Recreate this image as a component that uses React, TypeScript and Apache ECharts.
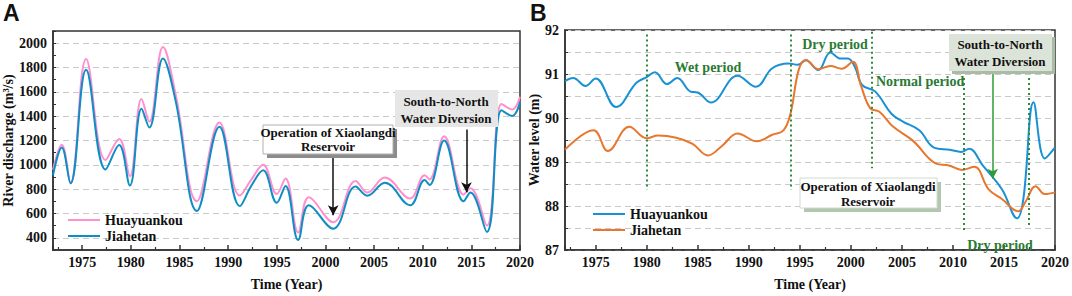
import React, { useEffect, useRef } from "react";
import * as echarts from "echarts";

// ---------- Panel A: river discharge (m3/s) ----------
const yearsA = [1972, 1972.9, 1973.8, 1975.4, 1977.4, 1978.8, 1979.9, 1981.1, 1981.9, 1983.3, 1984.6, 1986.8, 1989.1, 1991.2, 1992.4, 1993.6, 1995.0, 1995.9, 1997.2, 1998.3, 2000.8, 2003.1, 2004.3, 2006.1, 2008.7, 2010.2, 2010.7, 2012.2, 2014.2, 2014.9, 2016.6, 2018.1, 2019.2, 2020];
const huayuankouA = [960, 1165, 848, 1869, 1040, 1213, 907, 1541, 1355, 1968, 1581, 701, 1347, 747, 880, 1000, 760, 888, 443, 733, 528, 867, 773, 896, 723, 915, 880, 1235, 755, 808, 501, 1501, 1455, 1560];
const jiahetanA = [915, 1142, 848, 1782, 962, 1163, 830, 1461, 1307, 1875, 1528, 621, 1314, 661, 830, 955, 688, 827, 382, 667, 475, 822, 746, 853, 667, 875, 835, 1200, 701, 773, 448, 1448, 1402, 1514];

// ---------- Panel B: water level (m) ----------
const yearsHuaB = [1972, 1972.8, 1974.0, 1975.0, 1977.0, 1979.0, 1980.0, 1980.8, 1982.0, 1983.0, 1984.3, 1985.0, 1986.3, 1988.9, 1990.7, 1992.3, 1993.9, 1994.8, 1995.6, 1996.8, 1998.0, 1999.0, 1999.7, 2000.4, 2001.1, 2002.4, 2004.0, 2005.1, 2006.7, 2008.2, 2009.7, 2010.8, 2011.6, 2012.9, 2014.8, 2016.3, 2016.9, 2017.9, 2019.0, 2020];
const huayuankouB = [90.84, 90.91, 90.73, 90.90, 90.25, 90.80, 90.93, 91.04, 90.77, 90.91, 90.60, 90.58, 90.35, 90.96, 90.71, 91.13, 91.24, 91.21, 91.31, 91.09, 91.49, 91.35, 91.35, 91.16, 90.75, 90.60, 90.09, 89.92, 89.72, 89.32, 89.28, 89.23, 89.30, 88.93, 88.38, 87.72, 88.16, 90.36, 89.08, 89.33];
const yearsJiaB = [1972, 1974.8, 1976.2, 1978.3, 1980.0, 1981.1, 1982.9, 1984.5, 1986.0, 1987.4, 1988.9, 1990.8, 1992.3, 1993.4, 1994.1, 1994.9, 1995.6, 1996.8, 1998.0, 1999.1, 2000.2, 2001.0, 2001.9, 2002.8, 2004.1, 2006.1, 2008.3, 2009.6, 2010.9, 2012.1, 2013.5, 2014.8, 2016.4, 2017.1, 2018.1, 2019.0, 2020];
const jiahetanB = [89.28, 89.72, 89.25, 89.80, 89.54, 89.60, 89.55, 89.41, 89.15, 89.37, 89.65, 89.47, 89.62, 89.72, 90.11, 91.10, 91.32, 91.11, 91.18, 91.12, 91.28, 90.73, 90.22, 90.14, 89.81, 89.48, 88.97, 88.92, 88.82, 88.89, 88.38, 88.16, 87.88, 88.09, 88.45, 88.27, 88.31];

// period boundaries (year, yFrom, yTo)
const periodLines: [number, number, number][] = [
  [1980, 91.9, 88.37],
  [1994.1, 91.9, 88.37],
  [2002, 91.96, 88.86],
  [2011.1, 90.91, 87.43],
  [2017.4, 90.91, 87.54],
];

const SERIF = '"Liberation Serif", "Times New Roman", serif';
const PINK = "#ff8fcf";
const BLUE_A = "#0f8ec4";
const BLUE_B = "#1a91d4";
const ORANGE = "#e8762c";
const GREEN = "#2f8a3c";
const AXIS = "#333";

const pair = (xs: number[], ys: number[]) => xs.map((x, i) => [x, ys[i]]);

export default function App() {
  const ref = useRef<HTMLDivElement>(null);
  useEffect(() => {
    document.body.style.margin = "0";
    const chart = echarts.init(ref.current!, null, { renderer: "svg" });
    const xAxisBase = (gridIndex: number) => ({
      type: "value",
      gridIndex,
      min: 1972,
      max: 2020,
      splitNumber: 10,
      minInterval: 5,
      maxInterval: 5,
      name: "Time (Year)",
      nameLocation: "middle",
      nameGap: 27,
      nameTextStyle: { fontFamily: SERIF, fontWeight: "bold", fontSize: 14, color: "#111" },
      axisLine: { show: true, lineStyle: { color: AXIS, width: 1.5 } },
      axisTick: { show: true, inside: true, length: 5, lineStyle: { color: AXIS, width: 1.5 } },
      minorTick: { show: true, splitNumber: 2, length: 3, lineStyle: { color: AXIS, width: 1.2 } },
      splitLine: { show: false },
      axisLabel: {
        fontFamily: SERIF, fontWeight: "bold", fontSize: 14, color: "#111", margin: 5,
        formatter: (v: number) => (v % 5 === 0 ? String(v) : ""),
      },
    });
    const legendBase = {
      orient: "vertical", itemGap: 2, itemWidth: 32, itemHeight: 14,
      itemStyle: { opacity: 0 },
      textStyle: { fontFamily: SERIF, fontWeight: "bold", fontSize: 14, color: "#111" },
      selectedMode: false,
    };
    const option: any = {
      animation: false,
      textStyle: { fontFamily: SERIF },
      grid: [
        { left: 53, top: 31, width: 467, height: 226, show: true, borderColor: AXIS, borderWidth: 1.5, backgroundColor: "transparent" },
        { left: 565, top: 30, width: 491, height: 227, show: true, borderColor: AXIS, borderWidth: 1.5, backgroundColor: "transparent" },
      ],
      xAxis: [xAxisBase(0), xAxisBase(1)],
      yAxis: [
        {
          type: "value",
          gridIndex: 0,
          min: 300,
          max: 2100,
          interval: 100,
          name: "River discharge (m³/s)",
          nameLocation: "middle",
          nameGap: 34,
          nameTextStyle: { fontFamily: SERIF, fontWeight: "bold", fontSize: 14, color: "#111" },
          axisLine: { show: true, lineStyle: { color: AXIS, width: 1.5 } },
          axisTick: { show: true, inside: true, length: 3, lineStyle: { color: AXIS } },
          splitLine: { show: true, lineStyle: { color: ["transparent", "#c9c9c9"], type: [6, 4], width: 1 } },
          axisLabel: {
            fontFamily: SERIF, fontWeight: "bold", fontSize: 14, color: "#111", margin: 6,
            formatter: (v: number) => (v % 200 === 0 && v >= 400 && v <= 2000 ? String(v) : ""),
          },
        },
        {
          type: "value",
          gridIndex: 1,
          min: 87,
          max: 92,
          interval: 0.5,
          name: "Water level (m)",
          nameLocation: "middle",
          nameGap: 24,
          nameTextStyle: { fontFamily: SERIF, fontWeight: "bold", fontSize: 14, color: "#111" },
          axisLine: { show: true, lineStyle: { color: AXIS, width: 1.5 } },
          axisTick: { show: true, inside: true, length: 3, lineStyle: { color: AXIS } },
          splitLine: { show: true, lineStyle: { color: "#c9c9c9", type: [6, 4], width: 1 } },
          axisLabel: {
            fontFamily: SERIF, fontWeight: "bold", fontSize: 14, color: "#111", margin: 6,
            formatter: (v: number) => (Math.abs(v - Math.round(v)) < 1e-6 ? String(Math.round(v)) : ""),
          },
        },
      ],
      legend: [
        { ...legendBase, left: 62, top: 208, data: ["Huayuankou", "Jiahetan"] },
        {
          ...legendBase, left: 587, top: 202, data: ["Huayuankou (B)", "Jiahetan (B)"],
          formatter: (n: string) => n.replace(" (B)", ""),
        },
      ],
      series: [
        {
          name: "Huayuankou", type: "line", xAxisIndex: 0, yAxisIndex: 0, smooth: 0.4, symbol: "none",
          lineStyle: { color: PINK, width: 2 }, itemStyle: { color: PINK },
          data: pair(yearsA, huayuankouA),
        },
        {
          name: "Jiahetan", type: "line", xAxisIndex: 0, yAxisIndex: 0, smooth: 0.4, symbol: "none",
          lineStyle: { color: BLUE_A, width: 2 }, itemStyle: { color: BLUE_A },
          data: pair(yearsA, jiahetanA),
          markLine: {
            silent: true, symbol: ["none", "arrow"], symbolSize: [8, 10], label: { show: false },
            lineStyle: { color: "#111", width: 1.5, type: "solid" },
            data: [
              [{ coord: [2000.8, 1112] }, { coord: [2000.8, 585] }],
              [{ coord: [2014.5, 1290] }, { coord: [2014.5, 775] }],
            ],
          },
        },
        {
          name: "Huayuankou (B)", type: "line", xAxisIndex: 1, yAxisIndex: 1, smooth: 0.4, symbol: "none",
          lineStyle: { color: BLUE_B, width: 2 }, itemStyle: { color: BLUE_B },
          data: pair(yearsHuaB, huayuankouB),
          markLine: {
            silent: true, symbol: ["none", "none"], label: { show: false },
            lineStyle: { color: GREEN, width: 2, type: [2, 3] },
            data: periodLines.map(([x, y1, y2]) => [{ coord: [x, y1] }, { coord: [x, y2] }]),
          },
        },
        {
          name: "Jiahetan (B)", type: "line", xAxisIndex: 1, yAxisIndex: 1, smooth: 0.4, symbol: "none",
          lineStyle: { color: ORANGE, width: 2 }, itemStyle: { color: ORANGE },
          data: pair(yearsJiaB, jiahetanB),
          markLine: {
            silent: true, symbol: ["none", "arrow"], symbolSize: [8, 10], label: { show: false },
            lineStyle: { color: "#2e9b3a", width: 1.5, type: "solid" },
            data: [[{ coord: [2013.9, 91.08] }, { coord: [2013.9, 88.62] }]],
          },
        },
      ],
      graphic: [
        { type: "text", x: 3, y: 1, style: { text: "A", font: 'bold 23px "Liberation Sans", Arial, sans-serif', fill: "#111" } },
        { type: "text", x: 530, y: 1, style: { text: "B", font: 'bold 23px "Liberation Sans", Arial, sans-serif', fill: "#111" } },
        // A: Xiaolangdi box
        { type: "rect", shape: { x: 267, y: 129, width: 130, height: 29 }, style: { fill: "#8c8c8c" }, z: 10 },
        { type: "rect", shape: { x: 263, y: 125, width: 130, height: 29 }, style: { fill: "#fff", stroke: "#b0b0b0", lineWidth: 1 }, z: 11 },
        { type: "text", x: 328, y: 132, z: 12, style: { text: "Operation of Xiaolangdi", textAlign: "center", textVerticalAlign: "middle", font: `bold 13px ${SERIF}`, fill: "#111" } },
        { type: "text", x: 328, y: 146, z: 12, style: { text: "Reservoir", textAlign: "center", textVerticalAlign: "middle", font: `bold 13px ${SERIF}`, fill: "#111" } },
        // A: South-to-North box
        { type: "rect", shape: { x: 395, y: 90, width: 103, height: 37 }, style: { fill: "#e6e6e6" }, z: 10 },
        { type: "text", x: 446, y: 101, z: 12, style: { text: "South-to-North", textAlign: "center", textVerticalAlign: "middle", font: `bold 13px ${SERIF}`, fill: "#111" } },
        { type: "text", x: 446, y: 118, z: 12, style: { text: "Water Diversion", textAlign: "center", textVerticalAlign: "middle", font: `bold 13px ${SERIF}`, fill: "#111" } },
        // B: South-to-North box
        { type: "rect", shape: { x: 952, y: 37, width: 103, height: 37 }, style: { fill: "#a9bca6" }, z: 10 },
        { type: "rect", shape: { x: 949, y: 34, width: 103, height: 37 }, style: { fill: "#dce4d9" }, z: 11 },
        { type: "text", x: 1000, y: 44, z: 12, style: { text: "South-to-North", textAlign: "center", textVerticalAlign: "middle", font: `bold 13px ${SERIF}`, fill: "#111" } },
        { type: "text", x: 1000, y: 61, z: 12, style: { text: "Water Diversion", textAlign: "center", textVerticalAlign: "middle", font: `bold 13px ${SERIF}`, fill: "#111" } },
        // B: Xiaolangdi box
        { type: "rect", shape: { x: 804, y: 182, width: 137, height: 30 }, style: { fill: "#b3c6b0" }, z: 10 },
        { type: "rect", shape: { x: 800, y: 178, width: 137, height: 30 }, style: { fill: "#fff", stroke: "#d0dccd", lineWidth: 1 }, z: 11 },
        { type: "text", x: 868, y: 186, z: 12, style: { text: "Operation of Xiaolangdi", textAlign: "center", textVerticalAlign: "middle", font: `bold 13px ${SERIF}`, fill: "#111" } },
        { type: "text", x: 868, y: 201, z: 12, style: { text: "Reservoir", textAlign: "center", textVerticalAlign: "middle", font: `bold 13px ${SERIF}`, fill: "#111" } },
        // B: period labels
        { type: "text", x: 708, y: 67, z: 12, style: { text: "Wet period", textAlign: "center", textVerticalAlign: "middle", font: `bold 14px ${SERIF}`, fill: "#2a7a34" } },
        { type: "text", x: 835, y: 44, z: 12, style: { text: "Dry period", textAlign: "center", textVerticalAlign: "middle", font: `bold 14px ${SERIF}`, fill: "#2a7a34" } },
        { type: "text", x: 876, y: 81, z: 12, style: { text: "Normal period", textAlign: "left", textVerticalAlign: "middle", font: `bold 14px ${SERIF}`, fill: "#2a7a34" } },
        { type: "text", x: 1000, y: 245, z: 12, style: { text: "Dry period", textAlign: "center", textVerticalAlign: "middle", font: `bold 14px ${SERIF}`, fill: "#2a7a34" } },
      ],
    };
    chart.setOption(option);
    return () => chart.dispose();
  }, []);
  return <div ref={ref} style={{ width: 1072, height: 296 }} />;
}
